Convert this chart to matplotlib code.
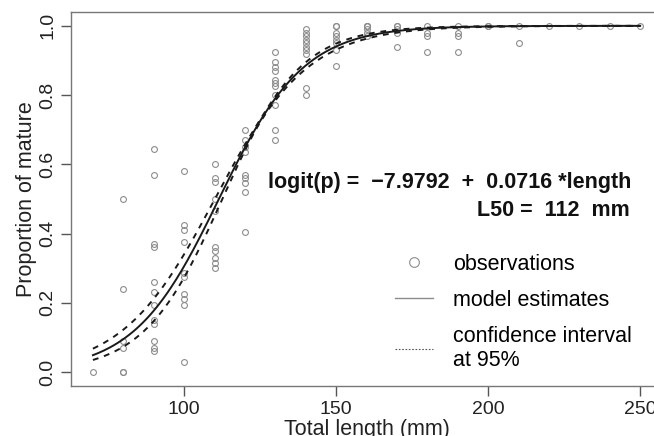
import numpy as np
import matplotlib
matplotlib.use('Agg')
import matplotlib.pyplot as plt
from matplotlib.lines import Line2D

plt.rcParams['font.family'] = ['Liberation Sans', 'DejaVu Sans']

# observed proportions of mature fish per length class (mm)
lengths = [70, 80, 90, 100, 110, 120, 130, 140, 150, 160, 170, 180, 190,
           200, 210, 220, 230, 240, 250]
proportions = [
    [0.0],
    [0.50, 0.24, 0.09, 0.07, 0.0, 0.0],
    [0.645, 0.57, 0.37, 0.36, 0.26, 0.23, 0.195, 0.15, 0.14, 0.09, 0.07, 0.06],
    [0.58, 0.425, 0.41, 0.375, 0.285, 0.275, 0.225, 0.21, 0.195, 0.03],
    [0.60, 0.56, 0.55, 0.50, 0.465, 0.36, 0.35, 0.33, 0.315, 0.30],
    [0.70, 0.67, 0.65, 0.635, 0.57, 0.56, 0.545, 0.52, 0.405],
    [0.925, 0.895, 0.88, 0.87, 0.845, 0.835, 0.825, 0.80, 0.77, 0.70, 0.67],
    [0.99, 0.98, 0.97, 0.96, 0.95, 0.94, 0.93, 0.92, 0.82, 0.80],
    [1.0, 1.0, 0.98, 0.97, 0.96, 0.95, 0.93, 0.885],
    [1.0, 1.0, 1.0, 0.99, 0.98, 0.97],
    [1.0, 1.0, 0.99, 0.98, 0.94],
    [1.0, 0.98, 0.97, 0.925],
    [1.0, 0.98, 0.97, 0.925],
    [1.0, 1.0],
    [1.0, 0.95],
    [1.0],
    [1.0],
    [1.0],
    [1.0],
]

# fitted logistic model (from the equation on the chart)
intercept = -7.9792
slope = 0.0716
# approximate standard error of the linear predictor, read from the band width
se_centre_len = 125
se_centre = 0.01
se_slope = 0.0032

obs_x = np.concatenate([[l] * len(p) for l, p in zip(lengths, proportions)])
obs_y = np.concatenate(proportions)

grid = np.linspace(70, 250, 400)
eta = intercept + slope * grid
se = np.sqrt(se_centre ** 2 + (se_slope * (grid - se_centre_len)) ** 2)
expit = lambda v: 1 / (1 + np.exp(-v))
fit = expit(eta)
upper = expit(eta + 1.96 * se)
lower = expit(eta - 1.96 * se)

fig = plt.figure(figsize=(6.54, 4.36), dpi=100)
ax = fig.add_axes([0.1086, 0.1147, 0.9037, 0.8578])

ax.plot(obs_x, obs_y, 'o', mfc='none', mec='#8c8c8c', mew=0.8, ms=4.2, zorder=2)
ax.plot(grid, fit, color='#1a1a1a', lw=1.4, zorder=3)
ax.plot(grid, upper, color='#1a1a1a', lw=1.4, ls=(0, (3, 3)), zorder=3)
ax.plot(grid, lower, color='#1a1a1a', lw=1.4, ls=(0, (3, 3)), zorder=3)

ax.set_xlim(62.8, 257.2)
ax.set_ylim(-0.04, 1.04)
ax.set_xticks([100, 150, 200, 250])
ax.set_yticks([0.0, 0.2, 0.4, 0.6, 0.8, 1.0])
ax.set_yticklabels(['0.0', '0.2', '0.4', '0.6', '0.8', '1.0'], rotation=90, va='center')
ax.tick_params(labelsize=14, length=7, width=1, color='#555555', labelcolor='#222222')
for side in ax.spines:
    ax.spines[side].set_color('#777777')
    ax.spines[side].set_linewidth(1.0)

ax.set_xlabel('Total length (mm)', fontsize=15.5, color='#222222', labelpad=1)
ax.set_ylabel('Proportion of mature', fontsize=15.5, color='#222222', labelpad=2)

ax.text(0.333, 0.543, 'logit(p) =  \u22127.9792  +  0.0716 *length', transform=ax.transAxes,
        fontsize=15.5, fontweight='bold', color='#111111', ha='left', va='center')
ax.text(0.946, 0.468, 'L50 =  112  mm', transform=ax.transAxes,
        fontsize=15.5, fontweight='bold', color='#111111', ha='right', va='center')

handles = [
    Line2D([], [], marker='o', ls='none', mfc='none', mec='#8c8c8c', mew=0.8, ms=7),
    Line2D([], [], color='#8c8c8c', lw=1.0),
    Line2D([], [], color='#555555', lw=0.8, ls=(0, (1.5, 1.5))),
]
ax.legend(handles, ['observations', 'model estimates', 'confidence interval\nat 95%'],
          frameon=False, fontsize=15.5, loc='upper left',
          bbox_to_anchor=(0.548, 0.354), handlelength=1.77, handletextpad=0.93,
          labelspacing=0.7, borderpad=0, borderaxespad=0)

fig.savefig('out.png', dpi=100)
